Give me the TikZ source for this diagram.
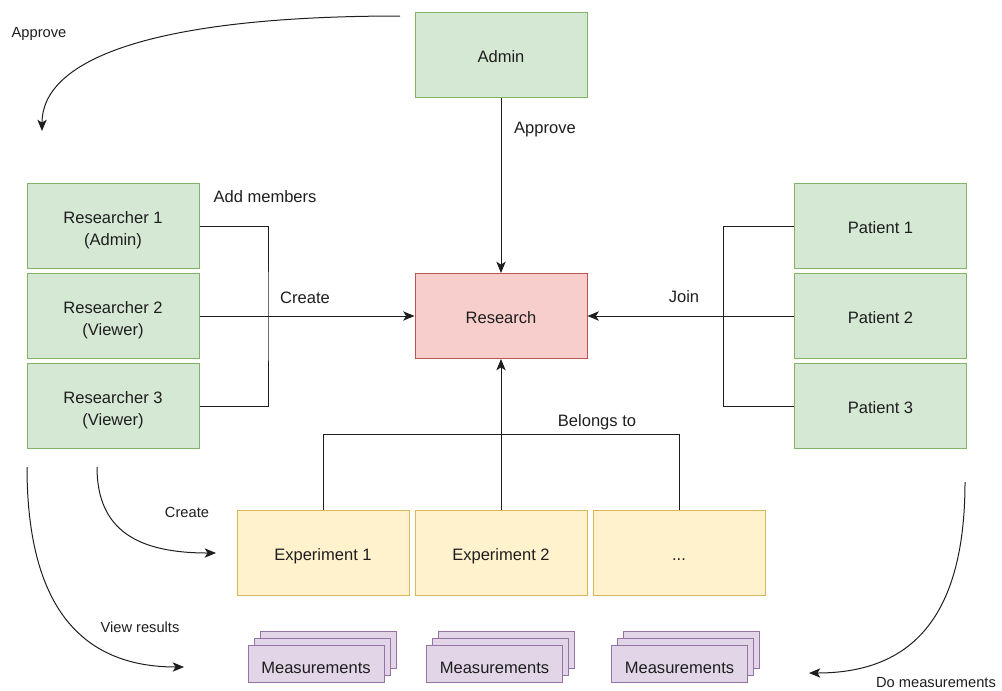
\documentclass[tikz,border=0pt]{standalone}
\usepackage{fontspec}
\setmainfont{Liberation Sans}
\usetikzlibrary{arrows.meta,shadows}

\definecolor{ink}{HTML}{1E1E1E}
\definecolor{greenfill}{HTML}{D5E8D4}
\definecolor{greenline}{HTML}{82B366}
\definecolor{redfill}{HTML}{F8CECC}
\definecolor{redline}{HTML}{B85450}
\definecolor{yellowfill}{HTML}{FFF2CC}
\definecolor{yellowline}{HTML}{D6B656}
\definecolor{purplefill}{HTML}{E1D5E7}
\definecolor{purpleline}{HTML}{9673A6}

\tikzset{
  box/.style={draw, line width=0.75pt, minimum width=129pt, minimum height=63.75pt,
    inner sep=0pt, align=center, text=ink, font=\fontsize{12.4}{16.5}\selectfont,
    text height=11.9pt, text depth=0pt},
  twolines/.style={text height=29.2pt, text depth=0pt},
  person/.style={box, fill=greenfill, draw=greenline},
  study/.style={box, fill=redfill, draw=redline},
  experiment/.style={box, fill=yellowfill, draw=yellowline},
  results/.style={box, fill=purplefill, draw=purpleline, minimum width=102pt,
    minimum height=27.75pt, text height=14.9pt,
    double copy shadow={shadow xshift=4.6pt, shadow yshift=5pt}},
  link/.style={draw=ink, line width=0.75pt},
  arr/.style={link, -{Stealth[length=8.5pt, width=7pt, inset=2.2pt]}},
  linklabel/.style={text=ink, inner sep=0pt, font=\fontsize{12.4}{15}\selectfont},
  flowlabel/.style={text=ink, inner sep=0pt, font=\fontsize{11}{13}\selectfont},
}

\begin{document}
\begin{tikzpicture}[x=0.75pt, y=-0.75pt]
\useasboundingbox (0,0) rectangle (1002,690);

% boxes
\node[person] (admin) at (501,55) {Admin};
\node[person, twolines] (r1) at (113,226) {Researcher 1\\(Admin)};
\node[person, twolines] (r2) at (113,316) {Researcher 2\\(Viewer)};
\node[person, twolines] (r3) at (113,406) {Researcher 3\\(Viewer)};
\node[study] (research) at (501,316) {Research};
\node[person] (p1) at (880.5,226) {Patient 1};
\node[person] (p2) at (880.5,316) {Patient 2};
\node[person] (p3) at (880.5,406) {Patient 3};
\node[experiment] (e1) at (323,553) {Experiment 1};
\node[experiment] (e2) at (501,553) {Experiment 2};
\node[experiment] (e3) at (679,553) {...};
\node[results] (m1) at (316,663.5) {Measurements};
\node[results] (m2) at (494.5,663.5) {Measurements};
\node[results] (m3) at (679.5,663.5) {Measurements};

% straight connectors
\draw[arr] (admin.south) -- (research.north);

\coordinate (ljoin) at (268,316);
\draw[link] (r1.east) -| (ljoin) |- (r3.east);
\draw[arr] (r2.east) -- (research.west);

\coordinate (rjoin) at (723,316);
\draw[link] (p1.west) -| (rjoin) |- (p3.west);
\draw[arr] (p2.west) -- (research.east);

\coordinate (bjoin) at (501,434);
\draw[link] (e1.north) |- (bjoin) -| (e3.north);
\draw[arr] (e2.north) -- (research.south);

% curved connectors
\coordinate (apS) at (400,16);
\coordinate (apE) at (42,131);
\draw[arr] (apS) .. controls (150,16) and (42,60) .. (apE);

\coordinate (crS) at (97,467);
\coordinate (crE) at (216,553);
\draw[arr] (crS) .. controls (97,532) and (140,553) .. (crE);

\coordinate (vrS) at (27,467);
\coordinate (vrE) at (184,667);
\draw[arr] (vrS) .. controls (27,605) and (80,667) .. (vrE);

\coordinate (dmS) at (965,482);
\coordinate (dmE) at (809,673);
\draw[arr] (dmS) .. controls (965,625) and (905,673) .. (dmE);

% labels
\node[linklabel] (lapprove) at (545,130) {Approve};
\node[linklabel] (ladd) at (265,197) {Add members};
\node[linklabel] (lcreate) at (305,298) {Create};
\node[linklabel] (ljoinlabel) at (684,297) {Join};
\node[linklabel] (lbelongs) at (597,422) {Belongs to};
\node[flowlabel] (ladmin) at (39,34) {Approve};
\node[flowlabel] (lcreatexp) at (187,512) {Create};
\node[flowlabel] (lview) at (140,627) {View results};
\node[flowlabel] (ldo) at (936,683) {Do measurements};
\end{tikzpicture}
\end{document}
